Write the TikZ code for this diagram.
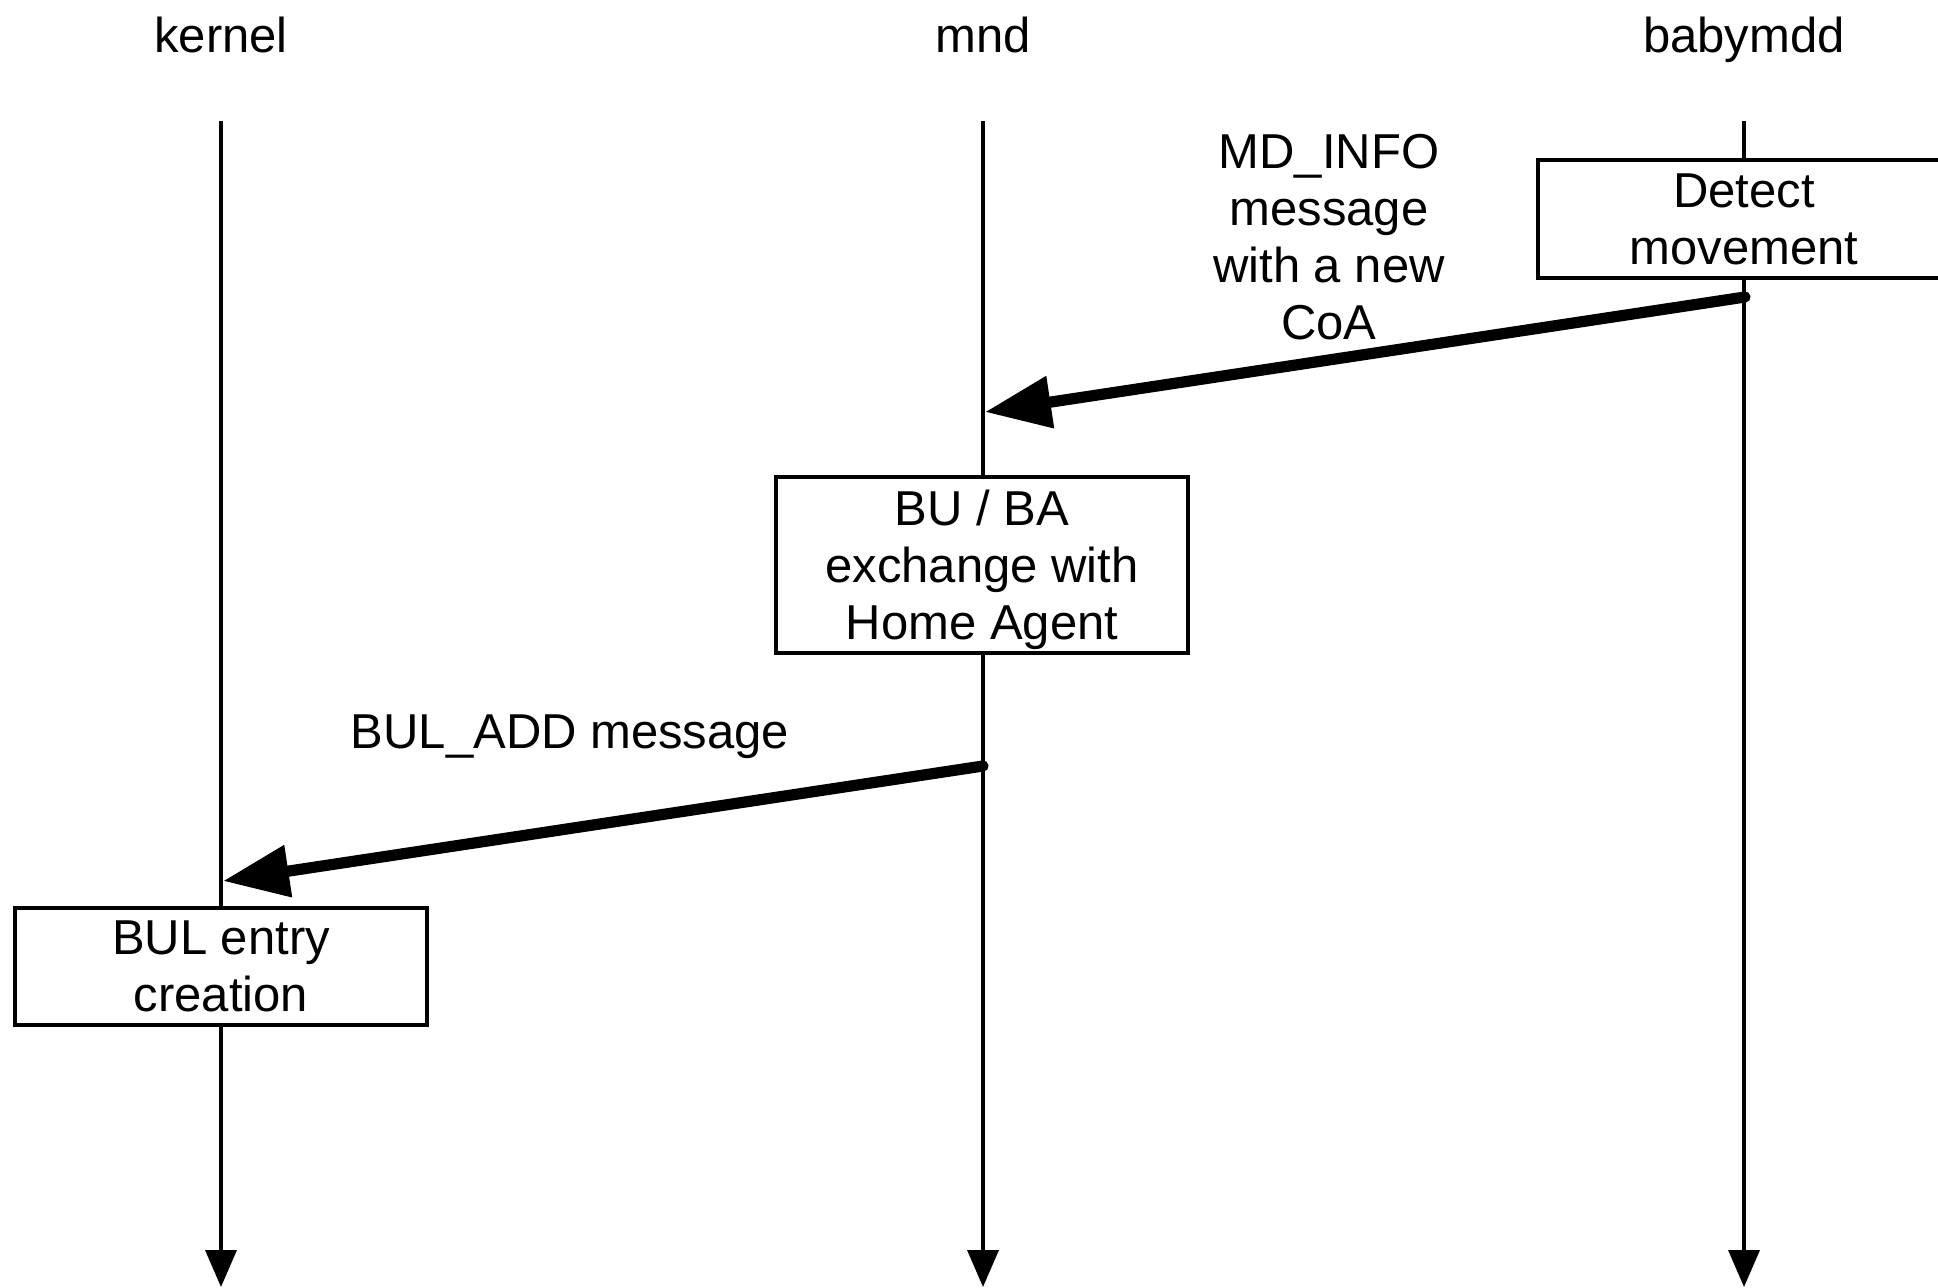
\documentclass[tikz,border=0pt]{standalone}
\usepackage{fontspec}
\setmainfont{Liberation Sans}
\usetikzlibrary{arrows.meta}
\begin{document}
\begin{tikzpicture}[x=0.5pt,y=-0.5pt,
  every node/.style={font=\fontsize{24.5pt}{28.5pt}\selectfont},
  header/.style={anchor=base, inner sep=0pt},
  lifeline/.style={line width=1.8pt, -{Triangle[length=18.5pt,width=15.5pt]}},
  actbox/.style={draw, line width=1.7pt, fill=white, align=center, inner sep=0pt, minimum width=206pt},
  msg/.style={line width=5.6pt, line cap=round, -{Triangle[length=33pt,width=25pt]}},
  lbl/.style={align=center, inner sep=0pt}
]
\useasboundingbox (0,0) rectangle (1938,1287);
\clip (0,0) rectangle (1938,1287);
\fill[white] (0,0) rectangle (1938,1287);

% headers
\node[header] (hk) at (221,52) {kernel};
\node[header] (hm) at (983,52) {mnd};
\node[header] (hb) at (1744,52) {babymdd};

% lifeline coordinates
\coordinate (kt) at (221,121);
\coordinate (kb) at (221,1287);
\coordinate (mt) at (983,121);
\coordinate (mb) at (983,1287);
\coordinate (bt) at (1744,121);
\coordinate (bb) at (1744,1287);

\draw[lifeline] (kt) -- (kb);
\draw[lifeline] (mt) -- (mb);
\draw[lifeline] (bt) -- (bb);

% boxes
\node[actbox, minimum height=59pt] (detect) at (1744,219) {Detect\\movement};
\node[actbox, minimum height=88pt] (buba) at (982,565) {\rule{0pt}{23pt}BU / BA\\exchange with\\Home Agent};
\node[actbox, minimum height=58.5pt] (bul) at (221,966.5) {BUL entry\\creation};

% messages
\coordinate (m1s) at (1745,297);
\coordinate (m1e) at (985,412);
\coordinate (m2s) at (983,766);
\coordinate (m2e) at (223,881);
\draw[msg] (m1s) -- (m1e);
\draw[msg] (m2s) -- (m2e);

\node[lbl] (l1) at (1329,237) {MD\_INFO\\message\\with a new\\CoA};
\node[lbl] (l2) at (570,737) {BUL\_ADD message};
\end{tikzpicture}
\end{document}
